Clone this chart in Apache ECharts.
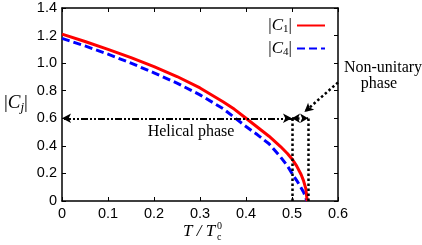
<!DOCTYPE html>
<html><head><meta charset="utf-8">
<script src="https://cdn.jsdelivr.net/npm/echarts@6/dist/echarts.min.js"></script>
<style>html,body{margin:0;padding:0;background:#fff}#c{width:422px;height:245px}</style>
</head><body><div id="c"></div>
<script>
const T1 = [0, 0.05, 0.1, 0.15, 0.2, 0.25, 0.3, 0.35, 0.375, 0.4, 0.425, 0.45, 0.475, 0.49, 0.5, 0.51, 0.52, 0.525, 0.53, 0.533];
const C1 = [1.21, 1.157, 1.10, 1.04, 0.975, 0.903, 0.82, 0.72, 0.665, 0.60, 0.535, 0.47, 0.395, 0.345, 0.305, 0.255, 0.19, 0.148, 0.09, 0.0];
const T4 = [0, 0.05, 0.1, 0.15, 0.2, 0.25, 0.3, 0.35, 0.375, 0.4, 0.425, 0.45, 0.475, 0.49, 0.5, 0.51, 0.52, 0.525, 0.53, 0.532];
const C4 = [1.18, 1.125, 1.065, 1.0, 0.93, 0.855, 0.77, 0.67, 0.605, 0.54, 0.48, 0.415, 0.32, 0.255, 0.20, 0.15, 0.095, 0.065, 0.025, 0.0];
const xTicks = ['0', '0.1', '0.2', '0.3', '0.4', '0.5', '0.6'];
const yTicks = ['0', '0.2', '0.4', '0.6', '0.8', '1.0', '1.2', '1.4'];
const phaseLevel = 0.6;
const helicalEnd = 0.5;
const criticalT = 0.535;
const nonUnitaryArrow = [[0.6, 0.86], [0.527, 0.645]];

const serif = 'Liberation Serif';
const sans = 'Liberation Sans';
const chart = echarts.init(document.getElementById('c'));
const pairs = (xs, ys) => xs.map((x, i) => [x, ys[i]]);
const axisCommon = {
  type: 'value',
  axisLine: {show: true, onZero: false, lineStyle: {color: '#000', width: 1.5}},
  axisTick: {show: true, inside: true, length: 4, lineStyle: {color: '#000', width: 1}},
  splitLine: {show: false}
};
const dotted = {color: '#000', type: [2.5, 2.5], width: 2.5};
chart.setOption({
  animation: false,
  grid: {left: 62, right: 84, top: 8, bottom: 44},
  xAxis: [
    Object.assign({}, axisCommon, {min: 0, max: 0.6, interval: 0.1, position: 'bottom',
      axisLabel: {color: '#000', fontFamily: sans, fontSize: 14.5, margin: 5,
        formatter: (v) => xTicks[Math.round(v * 10)]}}),
    Object.assign({}, axisCommon, {min: 0, max: 0.6, interval: 0.1, position: 'top', axisLabel: {show: false}})
  ],
  yAxis: [
    Object.assign({}, axisCommon, {min: 0, max: 1.4, interval: 0.2, position: 'left',
      axisLabel: {color: '#000', fontFamily: sans, fontSize: 14.5, margin: 5,
        formatter: (v) => yTicks[Math.round(v * 5)]}}),
    Object.assign({}, axisCommon, {min: 0, max: 1.4, interval: 0.2, position: 'right', axisLabel: {show: false}})
  ],
  legend: {
    orient: 'vertical', right: 96, top: 17, padding: 0, itemGap: 5,
    itemWidth: 28, itemHeight: 18, align: 'right',
    itemStyle: {opacity: 0},
    textStyle: {color: '#000', fontFamily: serif, fontSize: 17,
      rich: {i: {fontFamily: serif, fontStyle: 'italic', fontSize: 17},
             s: {fontFamily: serif, fontSize: 11, padding: [8, 0, 0, 0]},
             n: {fontFamily: serif, fontSize: 17}}},
    formatter: (name) => name === 'C1' ? '{n||}{i|C}{s|1}{n||}' : '{n||}{i|C}{s|4}{n||}',
    data: ['C1', 'C4']
  },
  series: [
    {name: 'C1', type: 'line', data: pairs(T1, C1), symbol: 'none', smooth: false,
      lineStyle: {color: '#ff0000', width: 3}, itemStyle: {color: '#ff0000'}, z: 3},
    {name: 'C4', type: 'line', data: pairs(T4, C4), symbol: 'none', smooth: false,
      lineStyle: {color: '#0000ff', width: 3, type: [8, 4]}, itemStyle: {color: '#0000ff'}, z: 2},
    {name: 'annot', type: 'line', data: [], silent: true,
      markLine: {
        silent: true, animation: false, label: {show: false},
        data: [
          [{coord: [helicalEnd, phaseLevel], symbol: 'arrow', symbolSize: [7, 9]},
           {coord: [0, phaseLevel], symbol: 'arrow', symbolSize: [7, 9],
            lineStyle: {color: '#000', width: 2, type: [7, 2, 2, 2, 2, 2]}}],
          [{coord: [helicalEnd, phaseLevel], symbol: 'arrow', symbolSize: [7, 8]},
           {coord: [criticalT, phaseLevel], symbol: 'arrow', symbolSize: [7, 8],
            lineStyle: dotted}],
          [{coord: [helicalEnd, 0], symbol: 'none'},
           {coord: [helicalEnd, phaseLevel], symbol: 'none', lineStyle: dotted}],
          [{coord: [criticalT, 0], symbol: 'none'},
           {coord: [criticalT, phaseLevel], symbol: 'none', lineStyle: dotted}],
          [{coord: nonUnitaryArrow[0], symbol: 'none'},
           {coord: nonUnitaryArrow[1], symbol: 'arrow', symbolSize: [7, 9], lineStyle: dotted}]
        ]
      }}
  ],
  graphic: [
    {type: 'text', x: 4, y: 92, style: {rich: {
        n: {fontFamily: serif, fontSize: 19, fill: '#000'},
        i: {fontFamily: serif, fontStyle: 'italic', fontSize: 19, fill: '#000'},
        s: {fontFamily: serif, fontStyle: 'italic', fontSize: 13, fill: '#000', padding: [9, 0, 0, 0]}},
      text: '{n||}{i|C}{s|j}{n||}'}},
    {type: 'text', x: 191, y: 132, style: {text: 'Helical phase', fontFamily: serif, fontSize: 16, fill: '#000', align: 'center', verticalAlign: 'middle'}},
    {type: 'text', x: 383, y: 68, style: {text: 'Non-unitary', fontFamily: serif, fontSize: 16, fill: '#000', align: 'center', verticalAlign: 'middle'}},
    {type: 'text', x: 379, y: 84, style: {text: 'phase', fontFamily: serif, fontSize: 16, fill: '#000', align: 'center', verticalAlign: 'middle'}},
    {type: 'group', x: 183, y: 223, children: [
      {type: 'text', x: 0, y: 0, style: {text: 'T / T', fontFamily: serif, fontStyle: 'italic', fontSize: 17, fill: '#000'}},
      {type: 'text', x: 34, y: -2, style: {text: '0', fontFamily: serif, fontSize: 10, fill: '#000'}},
      {type: 'text', x: 34, y: 9, style: {text: 'c', fontFamily: serif, fontSize: 10, fill: '#000'}}
    ]}
  ]
});
</script></body></html>
